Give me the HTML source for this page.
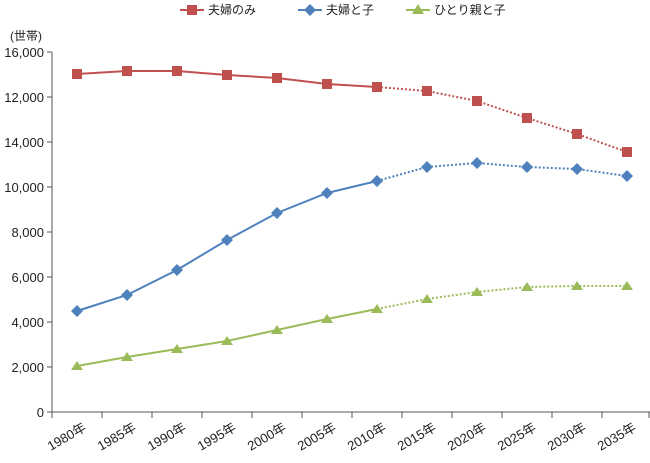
<!DOCTYPE html><html><head><meta charset="utf-8"><style>body{margin:0;background:#fff}svg{font-family:"Liberation Sans","Noto Sans CJK JP",sans-serif}</style></head><body>
<svg width="650" height="458" xmlns="http://www.w3.org/2000/svg">
<g font-size="12" fill="#222">
<line x1="180" y1="10" x2="204" y2="10" stroke="#c0504d" stroke-width="2"/><rect x="187" y="5" width="10" height="10" fill="#c0504d"/><text x="208" y="14">夫婦のみ</text>
<line x1="298" y1="10" x2="322" y2="10" stroke="#4f81bd" stroke-width="2"/><path d="M310 4l6 6-6 6-6-6z" fill="#4f81bd"/><text x="326" y="14">夫婦と子</text>
<line x1="406" y1="10" x2="430" y2="10" stroke="#9bbb59" stroke-width="2"/><path d="M418 4l6 10h-12z" fill="#9bbb59"/><text x="434" y="14">ひとり親と子</text>
<text x="10" y="40">(世帯)</text>
</g>
<g stroke="#555" stroke-width="1"><line x1="52" y1="52" x2="52" y2="412"/><line x1="52" y1="412" x2="650" y2="412"/>
<path d="M47 52h5M47 97h5M47 142h5M47 187h5M47 232h5M47 277h5M47 322h5M47 367h5M47 412h5"/>
<path d="M52 412v6M102 412v6M152 412v6M202 412v6M252 412v6M302 412v6M352 412v6M402 412v6M452 412v6M502 412v6M552 412v6M602 412v6M649 412v6"/></g>
<g font-size="13" fill="#222" text-anchor="end"><text x="44" y="57">16,000</text><text x="44" y="102">12,000</text><text x="44" y="147">14,000</text><text x="44" y="192">10,000</text><text x="44" y="237">8,000</text><text x="44" y="282">6,000</text><text x="44" y="327">4,000</text><text x="44" y="372">2,000</text><text x="44" y="417">0</text></g>
<g font-size="13" fill="#222" text-anchor="end">
<text transform="translate(87,430) rotate(-30)">1980年</text><text transform="translate(137,430) rotate(-30)">1985年</text><text transform="translate(187,430) rotate(-30)">1990年</text><text transform="translate(237,430) rotate(-30)">1995年</text><text transform="translate(287,430) rotate(-30)">2000年</text><text transform="translate(337,430) rotate(-30)">2005年</text><text transform="translate(387,430) rotate(-30)">2010年</text><text transform="translate(437,430) rotate(-30)">2015年</text><text transform="translate(487,430) rotate(-30)">2020年</text><text transform="translate(537,430) rotate(-30)">2025年</text><text transform="translate(587,430) rotate(-30)">2030年</text><text transform="translate(637,430) rotate(-30)">2035年</text></g>
<g fill="none" stroke-width="2">
<polyline stroke="#c0504d" points="77,74 127,71 177,71 227,75 277,78 327,84 377,87"/>
<polyline stroke="#c0504d" stroke-dasharray="2,2" points="377,87 427,91 477,101 527,118 577,134 627,152"/>
<polyline stroke="#4f81bd" points="77,311 127,295 177,270 227,240 277,213 327,193 377,181"/>
<polyline stroke="#4f81bd" stroke-dasharray="2,2" points="377,181 427,167 477,163 527,167 577,169 627,176"/>
<polyline stroke="#9bbb59" points="77,366 127,357 177,349 227,341 277,330 327,319 377,309"/>
<polyline stroke="#9bbb59" stroke-dasharray="2,2" points="377,309 427,299 477,292 527,287 577,286 627,286"/>
</g>
<g fill="#c0504d"><rect x="72" y="69" width="10" height="10"/><rect x="122" y="66" width="10" height="10"/><rect x="172" y="66" width="10" height="10"/><rect x="222" y="70" width="10" height="10"/><rect x="272" y="73" width="10" height="10"/><rect x="322" y="79" width="10" height="10"/><rect x="372" y="82" width="10" height="10"/><rect x="422" y="86" width="10" height="10"/><rect x="472" y="96" width="10" height="10"/><rect x="522" y="113" width="10" height="10"/><rect x="572" y="129" width="10" height="10"/><rect x="622" y="147" width="10" height="10"/></g>
<g fill="#4f81bd"><path d="M77 305l6 6-6 6-6-6zM127 289l6 6-6 6-6-6zM177 264l6 6-6 6-6-6zM227 234l6 6-6 6-6-6zM277 207l6 6-6 6-6-6zM327 187l6 6-6 6-6-6zM377 175l6 6-6 6-6-6zM427 161l6 6-6 6-6-6zM477 157l6 6-6 6-6-6zM527 161l6 6-6 6-6-6zM577 163l6 6-6 6-6-6zM627 170l6 6-6 6-6-6z"/></g>
<g fill="#9bbb59"><path d="M77 361l6 9h-12zM127 352l6 9h-12zM177 344l6 9h-12zM227 336l6 9h-12zM277 325l6 9h-12zM327 314l6 9h-12zM377 304l6 9h-12zM427 294l6 9h-12zM477 287l6 9h-12zM527 282l6 9h-12zM577 281l6 9h-12zM627 281l6 9h-12z"/></g>
</svg></body></html>
